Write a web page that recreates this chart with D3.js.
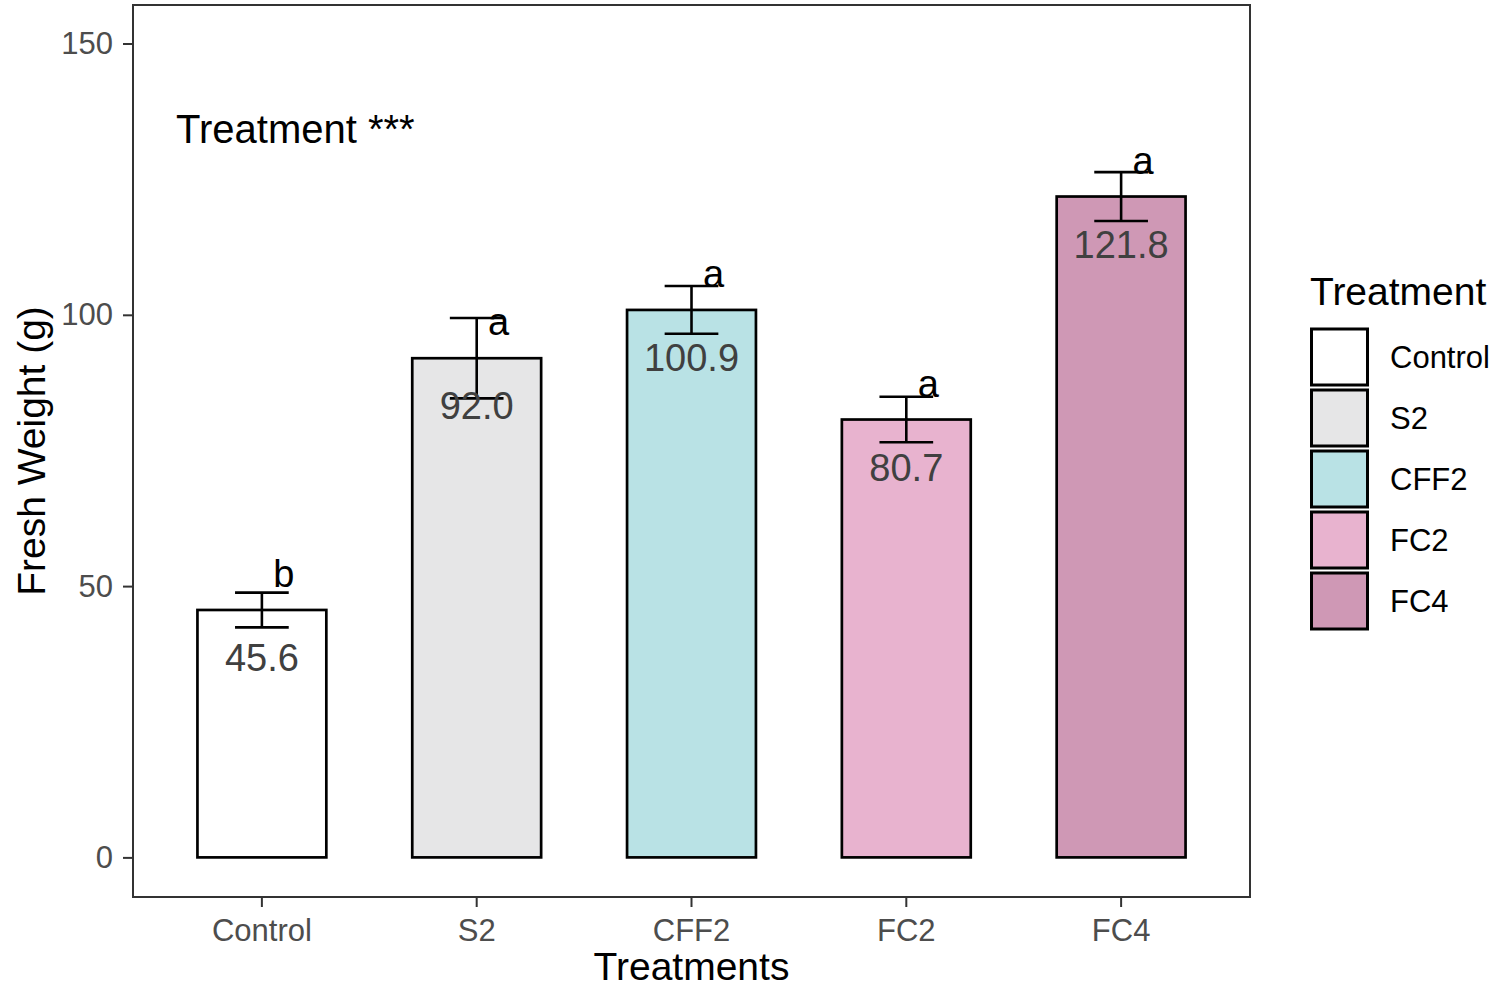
<!DOCTYPE html>
<html>
<head>
<meta charset="utf-8">
<script src="https://cdn.jsdelivr.net/npm/d3@7"></script>
<style>
  html, body { margin: 0; padding: 0; background: #fff; }
  svg { display: block; font-family: "Liberation Sans", Arial, sans-serif; }
</style>
</head>
<body>
<svg id="chart" width="1494" height="989"></svg>
<script>
// Fresh weight by treatment: means, standard errors and significance letters
const categories = ["Control", "S2", "CFF2", "FC2", "FC4"];
const means      = [45.6, 92.0, 100.9, 80.7, 121.8];
const errors     = [3.2, 7.4, 4.4, 4.2, 4.5];
const letters    = ["b", "a", "a", "a", "a"];
const fills      = ["#ffffff", "#e6e6e7", "#b9e2e5", "#e8b3cf", "#cf98b5"];
const yTicks     = [0, 50, 100, 150];

const svg = d3.select("#chart");

const panel = { left: 133, right: 1250, top: 5, bottom: 897 };

const x = d3.scaleBand()
  .domain(categories)
  .range([panel.left, panel.right])
  .paddingInner(0)
  .paddingOuter(0.1);

const y = d3.scaleLinear()
  .domain([-7.3, 157.1])
  .range([panel.bottom, panel.top]);

const step = x.step();
const barW = step * 0.6;
const capW = step * 0.25;
const cx = c => x(c) + x.bandwidth() / 2;

const rows = categories.map((c, i) => ({
  cat: c, mean: means[i], se: errors[i], letter: letters[i], fill: fills[i]
}));

// bars
svg.append("g").selectAll("rect")
  .data(rows)
  .join("rect")
  .attr("x", d => cx(d.cat) - barW / 2)
  .attr("width", barW)
  .attr("y", d => y(d.mean))
  .attr("height", d => y(0) - y(d.mean))
  .attr("fill", d => d.fill)
  .attr("stroke", "#000")
  .attr("stroke-width", 2.7);

// error bars
const eb = svg.append("g")
  .attr("stroke", "#000")
  .attr("stroke-width", 2.6)
  .selectAll("g")
  .data(rows)
  .join("g");
eb.append("line")
  .attr("x1", d => cx(d.cat)).attr("x2", d => cx(d.cat))
  .attr("y1", d => y(d.mean + d.se)).attr("y2", d => y(d.mean - d.se));
eb.append("line")
  .attr("x1", d => cx(d.cat) - capW / 2).attr("x2", d => cx(d.cat) + capW / 2)
  .attr("y1", d => y(d.mean + d.se)).attr("y2", d => y(d.mean + d.se));
eb.append("line")
  .attr("x1", d => cx(d.cat) - capW / 2).attr("x2", d => cx(d.cat) + capW / 2)
  .attr("y1", d => y(d.mean - d.se)).attr("y2", d => y(d.mean - d.se));

// mean labels inside the bars
svg.append("g").selectAll("text")
  .data(rows)
  .join("text")
  .attr("x", d => cx(d.cat))
  .attr("y", d => y(d.mean) + 61)
  .attr("text-anchor", "middle")
  .attr("font-size", 38)
  .attr("fill", "#404040")
  .text(d => d.mean.toFixed(1));

// significance letters
svg.append("g").selectAll("text")
  .data(rows)
  .join("text")
  .attr("x", d => cx(d.cat) + 22)
  .attr("y", d => y(d.mean) - 23)
  .attr("text-anchor", "middle")
  .attr("font-size", 38)
  .attr("fill", "#000")
  .text(d => d.letter);

// panel border
svg.append("rect")
  .attr("x", panel.left).attr("y", panel.top)
  .attr("width", panel.right - panel.left)
  .attr("height", panel.bottom - panel.top)
  .attr("fill", "none")
  .attr("stroke", "#333")
  .attr("stroke-width", 2);

// axes
const yAxis = svg.append("g")
  .attr("transform", `translate(${panel.left},0)`)
  .call(d3.axisLeft(y).tickValues(yTicks).tickSize(10).tickPadding(10));
const xAxis = svg.append("g")
  .attr("transform", `translate(0,${panel.bottom})`)
  .call(d3.axisBottom(x).tickSize(10).tickPadding(12));
[yAxis, xAxis].forEach(a => {
  a.select(".domain").remove();
  a.selectAll(".tick line").attr("stroke", "#333").attr("stroke-width", 2);
  a.selectAll(".tick text")
    .attr("font-size", 31)
    .attr("fill", "#4d4d4d")
    .attr("font-family", "'Liberation Sans', Arial, sans-serif");
});

// axis titles
svg.append("text")
  .attr("x", (panel.left + panel.right) / 2)
  .attr("y", 980)
  .attr("text-anchor", "middle")
  .attr("font-size", 39)
  .attr("fill", "#000")
  .text("Treatments");
svg.append("text")
  .attr("transform", `translate(45,${(panel.top + panel.bottom) / 2}) rotate(-90)`)
  .attr("text-anchor", "middle")
  .attr("font-size", 39)
  .attr("fill", "#000")
  .text("Fresh Weight (g)");

// ANOVA annotation
svg.append("text")
  .attr("x", 176)
  .attr("y", 143)
  .attr("font-size", 40)
  .attr("fill", "#000")
  .text("Treatment ***");

// legend
const legend = svg.append("g").attr("transform", "translate(1310,0)");
legend.append("text")
  .attr("x", 0).attr("y", 305)
  .attr("font-size", 39)
  .attr("fill", "#000")
  .text("Treatment");
const keySize = 56, keyStep = 61, keyTop = 329;
const items = legend.selectAll("g.item")
  .data(rows)
  .join("g")
  .attr("class", "item")
  .attr("transform", (d, i) => `translate(0,${keyTop + i * keyStep})`);
items.append("rect")
  .attr("x", 1.5).attr("y", 0)
  .attr("width", keySize).attr("height", keySize)
  .attr("fill", d => d.fill)
  .attr("stroke", "#000")
  .attr("stroke-width", 3);
items.append("text")
  .attr("x", 80).attr("y", keySize / 2)
  .attr("dy", "0.35em")
  .attr("font-size", 31)
  .attr("fill", "#000")
  .text(d => d.cat);
</script>
</body>
</html>
